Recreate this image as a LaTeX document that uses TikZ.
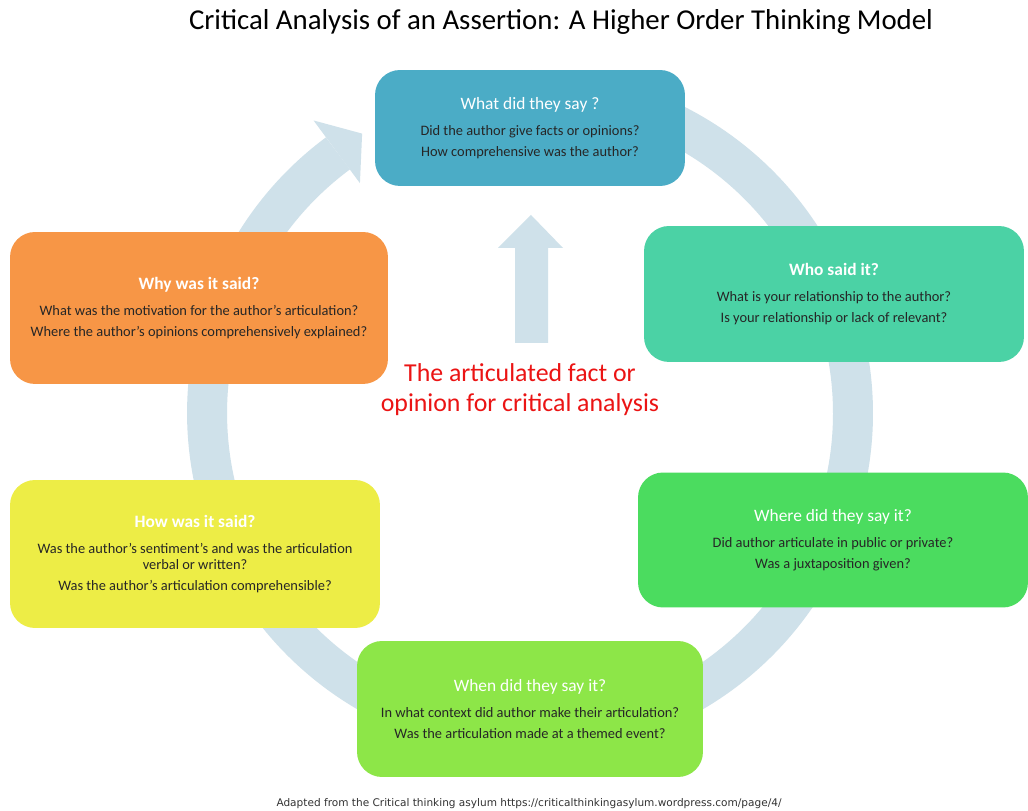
\documentclass[tikz,border=0pt]{standalone}
\usepackage{fontspec}
\setmainfont{Carlito}
\newfontfamily\footfont{DejaVu Sans}
\usetikzlibrary{calc}

\definecolor{ringblue}{RGB}{207,225,234}
\definecolor{whatblue}{RGB}{75,172,198}
\definecolor{whomint}{RGB}{75,210,165}
\definecolor{whyorange}{RGB}{247,150,70}
\definecolor{howyellow}{RGB}{237,237,70}
\definecolor{wheregreen}{RGB}{75,220,95}
\definecolor{whenlime}{RGB}{141,230,72}
\definecolor{corered}{RGB}{235,20,20}

\newcommand{\hd}[1]{{\fontsize{9.9}{11}\selectfont\color{white}#1}}
\newcommand{\hdb}[1]{{\fontsize{9.9}{11}\selectfont\bfseries\color{white}#1}}

\tikzset{
  card/.style={rounded corners=0.5cm, inner sep=0pt, align=center,
    text=black!85, font=\fontsize{8.2}{9.1}\selectfont},
  ringline/.style={draw=ringblue, line width=0.8cm}
}

\begin{document}
\begin{tikzpicture}[x=0.02cm, y=0.02cm]
    \useasboundingbox (0,0) rectangle (1028,811);
    \fill[white] (0,0) rectangle (1028,811);
    % ring behind the boxes
    \coordinate (ring) at (530,398);
    \draw[ringline] ($(ring)+(100:6.46cm)$)
        arc[start angle=100, end angle=-233.5, radius=6.46cm];
    \fill[ringblue] ($(ring)+(126.5:7.28cm)$) -- ($(ring)+(121:6.52cm)$)
        -- ($(ring)+(126.5:5.72cm)$) -- cycle;
    % arrow up from the centre
    \fill[ringblue] (515,468) -- (515,563) -- (498,563) -- (531,596)
        -- (563,563) -- (548,563) -- (548,468) -- cycle;

    \node (title) at (561,789) {\fontsize{16.4}{19}\selectfont
        Critical Analysis of an Assertion: A Higher Order Thinking Model};

    \node[card, fill=whatblue, minimum width=6.2cm, minimum height=2.32cm]
        (what) at (530,683)
        {\hd{What did they say ?}\\[5.7pt]
         Did the author give facts or opinions?\\[3.1pt]
         How comprehensive was the author?};
    \node[card, fill=whomint, minimum width=7.6cm, minimum height=2.72cm]
        (who) at (834,517)
        {\hdb{Who said it?}\\[5.7pt]
         What is your relationship to the author?\\[3.1pt]
         Is your relationship or lack of relevant?};
    \node[card, fill=wheregreen, minimum width=7.8cm, minimum height=2.7cm]
        (where) at (833,271)
        {\hd{Where did they say it?}\\[5.7pt]
         Did author articulate in public or private?\\[3.1pt]
         Was a juxtaposition given?};
    \node[card, fill=whenlime, minimum width=6.92cm, minimum height=2.72cm]
        (when) at (530,102)
        {\hd{When did they say it?}\\[5.7pt]
         In what context did author make their articulation?\\[3.1pt]
         Was the articulation made at a themed event?};
    \node[card, fill=howyellow, minimum width=7.4cm, minimum height=2.96cm]
        (how) at (195,257)
        {\hdb{How was it said?}\\[5.7pt]
         Was the author’s sentiment’s and was the articulation\\
         verbal or written?\\[3.1pt]
         Was the author’s articulation comprehensible?};
    \node[card, fill=whyorange, minimum width=7.56cm, minimum height=3.04cm]
        (why) at (199,503)
        {\hdb{Why was it said?}\\[5.7pt]
         What was the motivation for the author’s articulation?\\[3.1pt]
         Where the author’s opinions comprehensively explained?};

    \node[align=center, text=corered, font=\fontsize{14.7}{17}\selectfont]
        (core) at (520,421)
        {The articulated fact or\\opinion for critical analysis};

    \node[font=\footfont\fontsize{6}{7}\selectfont, text=black!80]
        (source) at (529,7)
        {Adapted from the Critical thinking asylum https://criticalthinkingasylum.wordpress.com/page/4/};
\end{tikzpicture}
\end{document}
